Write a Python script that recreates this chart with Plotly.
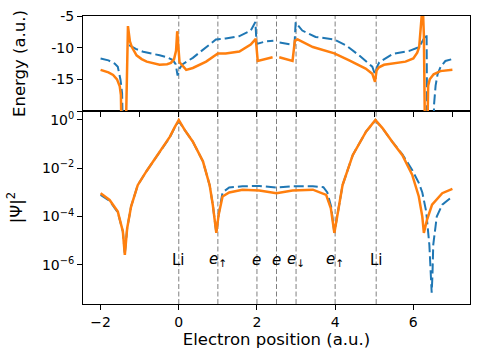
import math
import plotly.graph_objects as go

# ---------------- data ----------------
# Top panel: local energy (a.u.)
energy_blue_x = [-2.0, -1.8, -1.64, -1.56, -1.49, -1.45, -1.41, None, -1.27, -1.1, -0.91, -0.7, -0.49, -0.3,
                 -0.15, -0.08, -0.03, 0.03, 0.1, 0.36, 0.7, 0.95, 1.2, 1.54, 1.84, 1.96, 1.99, 2.23, 2.42, None,
                 2.58, 2.8, 2.96, 2.99, 3.16, 3.5, 3.98, 4.27, 4.61, 4.95, 5.02, 5.08, 5.13, 5.47, 5.9, 6.15,
                 6.28, 6.34, 6.36, 6.47, 6.53, 6.57, 6.62, 6.7, 6.82, 7.0]
energy_blue = [-11.7, -12.0, -12.5, -13.0, -15.1, -17.2, -30.0, None, -9.6, -10.2, -10.65, -10.9, -11.2, -11.5,
               -11.96, -12.6, -14.4, -13.2, -12.6, -11.6, -9.9, -8.7, -8.55, -8.2, -7.3, -5.95, -9.4, -9.0, -8.9, None,
               -9.2, -9.4, -9.6, -6.0, -7.3, -8.3, -8.7, -9.6, -11.2, -13.0, -14.2, -12.9, -12.3, -11.0, -10.5, -9.9,
               -8.6, -7.8, -30.0, -40.0, -19.0, -16.0, -14.2, -13.0, -12.1, -11.8]

energy_orange_x = [-2.0, -1.8, -1.68, -1.58, -1.51, -1.48, -1.46, -1.36, -1.30, -1.25, -1.2, -1.08, -0.95, -0.82,
                   -0.49, -0.3, -0.2, -0.12, -0.07, -0.04, 0.02, 0.09, 0.19, 0.36, 0.7, 1.0, 1.2, 1.55, 1.84, 1.97,
                   2.02, 2.4, None, 2.57, 2.91, 2.97, 3.04, 3.43, 3.98, 4.36, 4.78, 4.95, 5.02, 5.06, 5.12, 5.25,
                   5.47, 5.8, 6.0, 6.1, 6.15, 6.21, 6.24, 6.27, 6.31, 6.34, 6.38, 6.42, 6.52, 6.69, 7.0]
energy_orange = [-13.5, -13.9, -14.3, -15.0, -16.1, -17.5, -25.0, -25.0, -6.6, -9.0, -9.9, -11.2, -11.8, -12.2,
                 -12.7, -12.6, -12.4, -11.8, -10.5, -7.4, -12.3, -12.8, -13.5, -13.2, -12.2, -10.9, -10.9, -10.6, -9.5, -8.6,
                 -12.1, -11.5, None, -11.5, -12.1, -8.9, -8.7, -9.9, -10.9, -12.0, -13.3, -14.1, -15.4, -13.6, -13.1, -12.7,
                 -12.5, -12.2, -11.7, -10.8, -9.9, -6.2, -3.0, -8.0, -30.0, -30.0, -16.0, -15.0, -14.2, -13.7, -13.5]

# Bottom panel: |Psi|^2
psi_orange_x = [-2.0, -1.77, -1.56, -1.43, -1.38, -1.32, -1.22, -1.05, -0.83, -0.49, -0.23, -0.12, 0.0, 0.15, 0.36,
                0.62, 0.79, 0.87, 0.96, 1.02, 1.12, 1.29, 1.63, 2.06, 2.5, 2.91, 3.43, 3.77, 3.89, 3.98, 4.06,
                4.19, 4.45, 4.79, 5.03, 5.21, 5.46, 5.72, 5.97, 6.14, 6.23, 6.27, 6.35, 6.48, 6.74, 7.0]
psi_orange = [9.3e-4, 4.9e-4, 1.6e-4, 2.4e-5, 2.6e-6, 3.3e-5, 2.6e-4, 2.0e-3, 7.4e-3, 4.9e-2, 0.20, 0.45, 1.0, 0.39, 0.126,
              1.9e-2, 2.0e-3, 3.1e-4, 2.1e-5, 1.2e-4, 6.8e-4, 1.0e-3, 1.3e-3, 1.2e-3, 9.3e-4, 1.2e-3, 1.3e-3, 7.9e-4, 2.2e-4, 2.1e-5, 1.2e-4,
              2.0e-3, 3.5e-2, 0.33, 1.0, 0.46, 0.126, 3.5e-2, 5.4e-3, 6.8e-4, 1.0e-4, 2.1e-5, 7.4e-5, 3.1e-4, 9.3e-4, 1.4e-3]

psi_blue_x = [-2.0, -1.77, -1.56, -1.43, -1.38, -1.32, -1.22, -1.05, -0.83, -0.49, -0.23, -0.12, 0.0, 0.15, 0.36,
              0.62, 0.79, 0.87, 0.96, 1.02, 1.12, 1.29, 1.63, 2.06, 2.5, 2.91, 3.43, 3.7, 3.8, 3.9, 3.98, 4.06,
              4.19, 4.45, 4.79, 5.03, 5.21, 5.46, 5.72, 5.97, 6.14, 6.23, 6.33, 6.41, 6.45, 6.47, 6.49, 6.51, 6.6, 6.74, 7.0]
psi_blue = [7.9e-4, 4.5e-4, 1.5e-4, 2.4e-5, 2.8e-6, 3.3e-5, 2.6e-4, 2.0e-3, 7.4e-3, 4.9e-2, 0.19, 0.43, 0.9, 0.39, 0.126,
            1.9e-2, 2.0e-3, 3.1e-4, 2.1e-5, 1.2e-4, 1.0e-3, 1.6e-3, 1.8e-3, 1.85e-3, 1.6e-3, 1.8e-3, 1.8e-3, 1.65e-3, 1.0e-3, 2.5e-4, 2.1e-5, 1.2e-4,
            2.0e-3, 3.5e-2, 0.33, 0.95, 0.46, 0.126, 3.8e-2, 8.5e-3, 2.5e-3, 1.0e-3, 1.6e-4, 6.8e-6, 4.0e-7, 7.0e-8, 4.0e-7, 6.8e-6, 1.0e-4, 3.1e-4, 6.8e-4]

# Particle markers
marker_x = [0, 1, 2, 2.5, 3, 4, 5.05]
marker_labels = ["Li", "<i>e</i><sub>↑</sub>", "<i>e</i>", "<i>e</i>", "<i>e</i><sub>↓</sub>", "<i>e</i><sub>↑</sub>", "Li"]
label_y = 1e-6

top_xticks = [-2, -1, 0, 1, 2, 3, 4, 5, 6, 7]
bottom_xticks = [-2, 0, 2, 4, 6]
bottom_xticktext = ["−2", "0", "2", "4", "6"]
energy_ticks = [-5, -10, -15, -20]
energy_ticktext = ["-5", "-10", "-15", ""]
psi_ticks = [1, 1e-2, 1e-4, 1e-6]
psi_ticktext = ["10<sup>0</sup>", "10<sup>−2</sup>", "10<sup>−4</sup>", "10<sup>−6</sup>"]

BLUE = "#1f77b4"
ORANGE = "#ff7f0e"
FONT = "DejaVu Sans"

fig = go.Figure()
fig.add_trace(go.Scatter(x=energy_blue_x, y=energy_blue, mode="lines", xaxis="x2", yaxis="y2",
                         line=dict(color=BLUE, width=2, dash="10px,4px"), connectgaps=False, showlegend=False))
fig.add_trace(go.Scatter(x=energy_orange_x, y=energy_orange, mode="lines", xaxis="x2", yaxis="y2",
                         line=dict(color=ORANGE, width=2.5), connectgaps=False, showlegend=False))
fig.add_trace(go.Scatter(x=psi_blue_x, y=psi_blue, mode="lines", xaxis="x", yaxis="y",
                         line=dict(color=BLUE, width=2, dash="10px,4px"), showlegend=False))
fig.add_trace(go.Scatter(x=psi_orange_x, y=psi_orange, mode="lines", xaxis="x", yaxis="y",
                         line=dict(color=ORANGE, width=2.5), showlegend=False))

for xv in marker_x:
    fig.add_shape(type="line", xref="x", yref="paper", x0=xv, x1=xv, y0=0, y1=1, layer="below",
                  line=dict(color="gray", width=1, dash="5px,2.5px"))

for xv, txt in zip(marker_x, marker_labels):
    fig.add_annotation(x=xv, y=math.log10(label_y), xref="x", yref="y", text=txt, showarrow=False,
                       xanchor="center", yanchor="bottom", yshift=-6,
                       font=dict(family=FONT, size=15, color="black"))

split = 0.67
axis_common = dict(showline=True, linecolor="black", linewidth=1, mirror=True, ticks="outside",
                   ticklen=5, tickcolor="black", showgrid=False, zeroline=False, automargin=False,
                   tickfont=dict(family=FONT, size=14, color="black"))

fig.update_layout(
    width=480, height=361, autosize=False,
    margin=dict(l=83, r=10, t=16, b=57),
    plot_bgcolor="white", paper_bgcolor="white",
    font=dict(family=FONT, color="black"),
    xaxis=dict(domain=[0, 1], anchor="y", range=[-2.45, 7.45], tickvals=bottom_xticks, ticktext=bottom_xticktext,
               title=dict(text="Electron position (a.u.)", font=dict(family=FONT, size=16.5), standoff=4),
               **axis_common),
    xaxis2=dict(domain=[0, 1], anchor="y2", range=[-2.45, 7.45], matches="x", tickvals=top_xticks,
                showticklabels=False, **axis_common),
    yaxis=dict(domain=[0, split], anchor="x", type="log", range=[-7.62, 0.37], tickvals=psi_ticks,
               ticktext=psi_ticktext,
               title=dict(text="|Ψ|<sup>2</sup>", font=dict(family=FONT, size=16.5), standoff=15),
               **axis_common),
    yaxis2=dict(domain=[split, 1], anchor="x2", range=[-20, -5], tickvals=energy_ticks, ticktext=energy_ticktext,
                title=dict(text="Energy (a.u.)", font=dict(family=FONT, size=16.5), standoff=21),
                **axis_common),
)

fig.write_html("out.html", config={"displayModeBar": False},
               post_script="document.body.style.margin='0';")
